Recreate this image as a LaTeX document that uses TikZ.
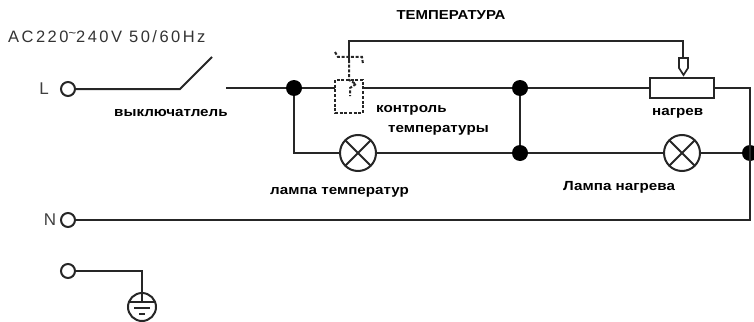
\documentclass[tikz,border=0pt]{standalone}
\usepackage{fontspec}
\setmainfont{Liberation Sans}
\newfontfamily\widebold[FakeStretch=1.15,BoldFont={Liberation Sans Bold}]{Liberation Sans}
\newfontfamily\spaced[LetterSpace=15]{Liberation Sans}
\begin{document}
\begin{tikzpicture}[x=1pt,y=-1pt,line cap=butt,
  wire/.style={line width=2pt,draw=black!85},
  terminal/.style={circle,draw=black!85,line width=2pt,minimum size=14pt,inner sep=0pt},
  lamp/.style={circle,draw=black!85,line width=2pt,minimum size=36pt,inner sep=0pt,path picture={
    \draw[line width=2pt,draw=black!85] (path picture bounding box.south west)--(path picture bounding box.north east)
      (path picture bounding box.north west)--(path picture bounding box.south east);}},
  dot/.style={circle,fill=black,minimum size=16pt,inner sep=0pt},
  dashbox/.style={line width=2pt,draw=black!85,dash pattern=on 3pt off 1.7pt},
  lab/.style={font=\fontsize{13.2pt}{15pt}\widebold\bfseries,text=black,inner sep=0pt,anchor=west},
  plain/.style={font=\fontsize{17pt}{19pt}\selectfont,text=black!75,inner sep=0pt}]
\useasboundingbox (0,0) rectangle (754,321);
% terminals
\node[terminal] (tL) at (68,89) {};
\node[terminal] (tN) at (68,220) {};
\node[terminal] (tE) at (68,271) {};
\node[plain] (lL) at (44,89) {L};
\node[plain] (lN) at (50,220) {N};
% junctions
\node[dot] (j1) at (294,88) {};
\node[dot] (j2) at (520,88) {};
\node[dot] (j3) at (520,153) {};
\node[dot] (j4) at (750,153) {};
% lamps
\node[lamp] (la1) at (358,153) {};
\node[lamp] (la2) at (682,153) {};
% resistor
\node[draw=black!85,line width=2pt,minimum width=64pt,minimum height=20pt,inner sep=0pt] (res) at (682,88) {};
% coordinates
\coordinate (swA) at (180,89);
\coordinate (swB) at (212,57);
\coordinate (swC) at (226,88);
\coordinate (boxL) at (335,88);
\coordinate (boxR) at (363,88);
\coordinate (c1) at (294,153);
\coordinate (c2) at (750,88);
\coordinate (c3) at (750,220);
\coordinate (g1) at (142,271);
\coordinate (t0) at (349,60);
\coordinate (t1) at (349,41);
\coordinate (t2) at (683,41);
\coordinate (t3) at (683,58);
% ground
\node[circle,draw=black!85,line width=2pt,minimum size=28pt,inner sep=0pt] (gnd) at (142,307) {};
% wires
\draw[wire] (tL) -- (swA) -- (swB);
\draw[wire] (swC) -- (j1) -- (boxL);
\draw[wire] (boxR) -- (j2) -- (res.west);
\draw[wire] (j1) -- (c1) -- (la1) -- (j3) -- (la2) -- (j4);
\draw[wire] (j2) -- (j3);
\draw[wire] (res.east) -- (c2) -- (c3) -- (tN);
\draw[wire] (tE) -- (g1) -- (gnd.north);
\draw[wire] (t0) -- (t1) -- (t2) -- (t3);
% probe
\draw[line width=1.7pt,draw=black!85,line join=miter] (679,58) -- (688,58) -- (688,68) -- (683.5,75) -- (679,68) -- cycle;
% ground symbol
\draw[wire] (gnd.north) -- (142,302);
\draw[line width=1.8pt,draw=black!85] (128.5,302) -- (155.5,302) (134,308) -- (150,308) (139,314) -- (145,314);
% dashed thermostat
\draw[dashbox] (335,80) rectangle (363,113);
\draw[dashbox] (335,52) -- (338,57) -- (362,57) -- (363,64);
\draw[dashbox] (349,60) -- (349,80) -- (356,84) -- (350,88) -- (350,96);
% labels
\node[lab,anchor=center,font=\fontsize{13pt}{15pt}\widebold\bfseries] (t) at (451,15) {ТЕМПЕРАТУРА};
\node[plain,anchor=west,font=\fontsize{16.5pt}{18pt}\spaced,text=black!80] (ac) at (8,37) {AC220\raisebox{5pt}[0pt][0pt]{\fontsize{13pt}{13pt}\selectfont\char`~}240V 50/60Hz};
\node[lab] (a) at (114,113) {выключатлель};
\node[lab] (b) at (376,110) {контроль};
\node[lab] (c) at (388,130) {температуры};
\node[lab] (d) at (652,113) {нагрев};
\node[lab] (e) at (270,192) {лампа температур};
\node[lab] (f) at (563,187) {Лампа нагрева};
\end{tikzpicture}
\end{document}
